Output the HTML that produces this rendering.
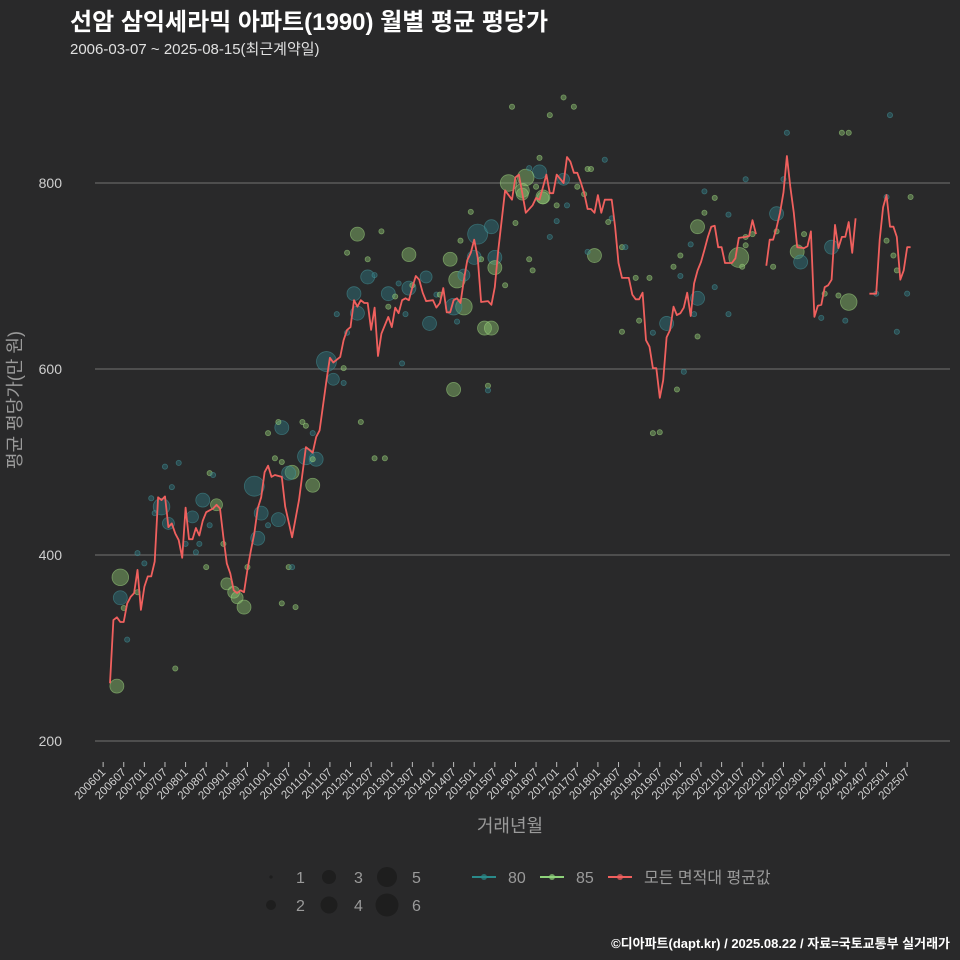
<!DOCTYPE html>
<html><head><meta charset="utf-8">
<style>
html,body{margin:0;padding:0;background:#29292a;}
svg{display:block;font-family:"Liberation Sans","Noto Sans CJK KR",sans-serif;}
</style></head>
<body>
<svg id="chart" width="960" height="960" viewBox="0 0 960 960">
<rect x="0" y="0" width="960" height="960" fill="#29292a"/>
<text x="70" y="30" fill="#ffffff" font-size="24" font-weight="bold">선암 삼익세라믹 아파트(1990) 월별 평균 평당가</text>
<text x="70" y="54" fill="#e0e0e0" font-size="15">2006-03-07 ~ 2025-08-15(최근계약일)</text>
<g id="grid"></g>
<g id="yticks"></g>
<text x="0" y="0" transform="translate(21,400) rotate(-90)" text-anchor="middle" fill="#9a9a9a" font-size="18">평균 평당가(만 원)</text>
<g id="bubbles"></g>
<g id="line"></g>
<g id="xticks"></g>
<text x="510" y="832" text-anchor="middle" fill="#9a9a9a" font-size="18">거래년월</text>
<g id="legend"></g>
<text x="950" y="948" text-anchor="end" fill="#ffffff" font-size="13" font-weight="bold">©디아파트(dapt.kr) / 2025.08.22 / 자료=국토교통부 실거래가</text>
</svg>
<script>
// ---- data ----
// months are indices since 2006-01 (0 = 2006-01)
const lineMonths = [2,3,4,5,6,7,8,9,10,11,12,13,14,15,16,17,18,19,20,21,22,23,24,25,26,27,28,29,30,32,33,34,35,36,37,38,39,40,41,42,43,44,45,46,47,48,49,50,52,53,55,57,59,61,62,63,65,66,67,69,70,71,72,73,74,75,76,77,78,79,80,81,83,84,85,86,87,88,89,90,91,92,93,94,96,97,98,99,100,101,102,103,104,105,106,107,108,109,110,112,113,114,115,117,118,119,120,121,122,123,125,126,127,129,130,131,132,134,135,136,137,138,139,140,141,142,143,144,145,146,148,149,150,151,153,154,155,156,157,158,159,160,161,162,163,164,165,166,167,168,169,170,171,172,173,174,175,176,177,178,179,180,181,183,184,185,187,188,189,190,191,193,194,195,196,197,198,199,200,201,202,204,205,206,207,208,209,210,211,212,213,214,215,216,217,218,219,220,223,224,225,226,227,228,229,230,231,232,233,234,235];
const lineValues = [262,330,333,328,328,348,355,359,384,341,366,377,377,393,462,459,463,430,434,423,416,397,451,417,417,429,421,437,446,450,454,450,419,391,380,362,359,362,360,384,405,423,450,462,489,496,484,486,484,452,419,459,516,510,527,534,588,612,607,613,631,642,645,674,667,674,671,671,642,666,614,638,656,645,666,660,674,676,674,688,700,696,682,673,674,666,671,687,661,661,674,676,671,696,717,725,739,720,672,673,669,688,728,792,787,782,806,809,789,768,776,784,782,809,789,789,809,800,828,823,811,811,801,789,772,772,768,787,768,782,782,753,714,698,698,680,675,675,682,631,624,601,601,569,588,634,642,667,658,660,666,682,657,692,706,715,728,742,753,754,731,731,714,714,719,741,742,743,760,745,null,711,739,739,752,768,790,829,796,768,731,730,732,748,656,668,669,688,690,696,755,730,742,742,758,725,762,null,681,681,681,739,774,787,753,753,742,696,706,731,731];

const ptMonth = [4,5,5,6,7,10,12,10,21,14,18,22,20,17,19,15,29,26,31,32,33,31,28,27,24,30,35,36,38,39,41,42,44,46,45,48,51,50,52,48,51,52,55,54,58,59,61,59,62,61,61,54,55,52,56,65,67,70,70,75,79,82,74,81,71,77,77,79,73,74,68,71,83,85,86,83,89,89,90,94,88,87,95,97,98,101,103,105,105,102,103,102,107,104,109,113,108,110,114,114,117,111,113,112,112,127,127,118,123,122,124,128,126,120,124,125,130,132,132,119,134,137,130,146,141,142,122,128,134,135,138,140,148,147,143,141,151,152,155,159,156,151,160,160,162,167,169,164,173,172,173,178,168,166,168,171,173,175,175,178,182,182,185,186,187,189,187,187,196,195,196,198,199,204,202,203,212,215,217,214,217,216,209,210,229,228,230,231,234,231,235,225,228];
const ptValue = [259,354,376,343,309,402,391,360,278,461,495,499,473,452,434,445,459,441,488,486,454,432,412,403,412,387,412,369,360,354,344,387,474,445,418,432,438,504,537,531,543,500,489,488,543,539,475,506,503,503,531,387,387,348,344,608,589,601,585,543,504,504,745,748,725,718,699,701,681,660,659,639,681,678,692,667,723,687,690,699,659,606,649,680,680,718,696,701,667,667,651,578,769,738,745,753,720,718,720,709,690,644,644,582,577,827,812,800,806,792,816,785,796,757,718,706,742,776,759,882,892,882,873,825,815,815,788,784,804,776,796,788,762,758,722,726,731,731,698,698,652,640,639,531,532,578,597,649,635,659,676,688,700,710,722,734,753,768,791,784,766,659,720,710,733,745,742,804,767,710,748,804,854,745,726,715,731,854,854,679,672,652,655,681,873,738,722,706,681,640,785,681,785];
const ptCount = [4,4,5,1,1,1,1,1,1,1,1,1,1,5,3,1,4,3,1,1,3,1,1,1,1,1,1,3,3,3,4,1,6,4,4,1,4,1,4,1,1,1,4,4,1,1,4,5,4,1,1,1,1,1,1,6,3,1,1,1,1,1,4,1,1,1,4,1,4,4,1,1,4,1,1,1,4,4,1,3,1,1,4,1,1,4,5,3,5,5,1,4,1,1,6,4,4,1,4,4,1,4,4,1,1,1,4,5,5,4,1,4,1,1,1,1,1,1,1,1,1,1,1,1,1,1,3,3,3,1,1,1,1,1,4,1,1,1,1,1,1,1,1,1,1,1,1,4,1,1,4,1,1,1,1,1,4,1,1,1,1,1,6,1,1,1,1,1,4,1,1,1,1,1,4,4,4,1,1,1,5,1,1,1,1,1,1,1,1,1,1,1,1];
const ptArea = [85,80,85,85,80,80,80,85,85,80,80,80,80,80,80,80,80,80,85,80,85,80,80,80,80,85,85,85,85,85,85,85,80,80,80,80,80,85,80,85,85,85,85,80,85,85,85,80,80,85,80,85,80,85,85,80,80,85,80,85,85,85,85,85,85,85,80,80,80,80,80,80,80,85,80,85,85,80,85,80,80,80,80,80,85,85,85,80,85,80,80,85,85,85,80,80,80,85,80,85,85,85,85,85,80,85,80,85,85,85,80,85,85,85,85,85,80,85,80,85,85,85,85,80,85,85,85,85,80,80,85,85,80,85,85,80,85,80,85,85,85,85,80,85,85,85,80,80,85,80,80,80,80,85,85,80,85,85,80,85,80,80,85,85,85,85,85,80,80,85,85,80,80,85,85,80,80,85,85,85,85,80,80,85,80,85,85,85,80,80,85,80,80,80];

const yTickValues = [200,400,600,800];
const xTickLabels = ["200601","200607","200701","200707","200801","200807","200901","200907","201001","201007","201101","201107","201201","201207","201301","201307","201401","201407","201501","201507","201601","201607","201701","201707","201801","201807","201901","201907","202001","202007","202101","202107","202201","202207","202301","202307","202401","202407","202501","202507"];
const sizeLevels = [1,2,3,4,5,6];

// ---- scales ----
const NS = "http://www.w3.org/2000/svg";
function xScale(m){ return 110 + (m - 2) * 3.436; }
function yScale(v){ return 741 - (v - 200) * 0.93; }
const radiusFor = [0, 2.6, 4.5, 6, 7, 8.3, 10];
const fillFor = {80: "rgba(46,120,128,0.45)", 85: "rgba(140,195,110,0.45)"};
const strokeFor = {80: "rgba(70,150,155,0.55)", 85: "rgba(160,215,130,0.55)"};
function mk(tag, attrs, parent){
  const e = document.createElementNS(NS, tag);
  for (const k in attrs) e.setAttribute(k, attrs[k]);
  parent.appendChild(e);
  return e;
}
function monthIndexOfLabel(s){ return (parseInt(s.slice(0,4)) - 2006) * 12 + parseInt(s.slice(4)) - 1; }

// grid + y ticks
const grid = document.getElementById('grid');
const yt = document.getElementById('yticks');
yTickValues.forEach(v => {
  const l = mk('line', {x1: 95, x2: 950, y1: yScale(v), y2: yScale(v), stroke: '#737373', 'stroke-width': 1}, grid);
  
  
  const t = mk('text', {x: 62, y: yScale(v) + 5, 'text-anchor': 'end', fill: '#cfcfcf', 'font-size': 14}, yt);
  t.textContent = v;
  
  
});

// x ticks
const xt = document.getElementById('xticks');
xTickLabels.forEach(s => {
  const x = xScale(monthIndexOfLabel(s));
  const tk = mk('line', {x1: x, x2: x, y1: 762, y2: 767, stroke: '#bdbdbd', 'stroke-width': 1}, xt);
  
  
  const t = mk('text', {x: 0, y: 0, 'text-anchor': 'end', fill: '#d0d0d0', 'font-size': 11.5, transform: 'translate(' + (x + 3) + ',773) rotate(-45)'}, xt);
  t.textContent = s;
  
  
});

// bubbles
const bg = document.getElementById('bubbles');
ptMonth.forEach((m, i) => {
  const c = mk('circle', {cx: xScale(m), cy: yScale(ptValue[i]), r: radiusFor[ptCount[i]], fill: fillFor[ptArea[i]], stroke: strokeFor[ptArea[i]], 'stroke-width': 0.8}, bg);
  
  
});

// line (null breaks segments)
const lg = document.getElementById('line');
let d = '', pen = false;
lineMonths.forEach((m, i) => {
  const v = lineValues[i];
  if (v === null) { pen = false; return; }
  d += (pen ? 'L' : 'M') + xScale(m).toFixed(1) + ',' + yScale(v).toFixed(1);
  pen = true;
});
const path = mk('path', {d: d, fill: 'none', stroke: '#f0605e', 'stroke-width': 1.8, 'stroke-linejoin': 'round'}, lg);



// legend
const leg = document.getElementById('legend');
sizeLevels.forEach((s, i) => {
  const col = Math.floor(i / 2), row = i % 2;
  const cx = 271 + col * 58, cy = 877 + row * 28;
  const c = mk('circle', {cx: cx, cy: cy, r: [1.6,5,7,8.5,10,11.5][i], fill: '#1e1e1e'}, leg);
  
  
  const t = mk('text', {x: cx + 25, y: cy + 6, fill: '#9a9a9a', 'font-size': 16}, leg);
  t.textContent = s;
  
  
});
const series = [["80", "#2a8a8a", 472], ["85", "#8ed27a", 540], ["모든 면적대 평균값", "#f0605e", 608]];
series.forEach(sr => {
  const x = sr[2];
  const l = mk('line', {x1: x, x2: x + 24, y1: 877, y2: 877, stroke: sr[1], 'stroke-width': 2}, leg);
  
  
  const c = mk('circle', {cx: x + 12, cy: 877, r: 3, fill: sr[1], opacity: 0.7}, leg);
  
  
  const t = mk('text', {x: x + 36, y: 883, fill: '#9a9a9a', 'font-size': 16}, leg);
  t.textContent = sr[0];
  
  
});
</script>
</body></html>
